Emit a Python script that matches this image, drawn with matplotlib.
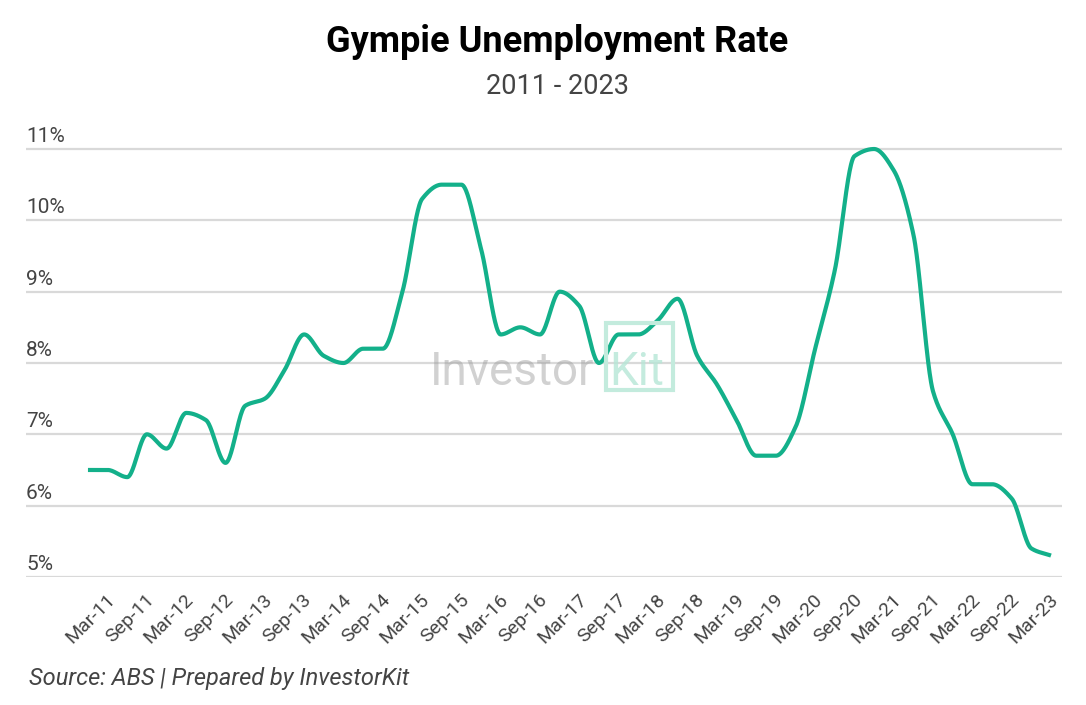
import numpy as np
import matplotlib
matplotlib.use('Agg')
import matplotlib.pyplot as plt
from matplotlib.transforms import ScaledTranslation
from matplotlib.patches import Rectangle

plt.rcParams['font.family'] = ['Roboto', 'DejaVu Sans']

# quarterly unemployment rate (%), Mar-11 onwards
rate = [6.5, 6.5, 6.4, 7.0, 6.8, 7.3, 7.2, 6.6, 7.4, 7.5,
        7.9, 8.4, 8.1, 8.0, 8.2, 8.2, 9.0, 10.3, 10.5, 10.5,
        9.6, 8.4, 8.5, 8.4, 9.0, 8.8, 8.0, 8.4, 8.4, 8.6,
        8.9, 8.1, 7.7, 7.2, 6.7, 6.7, 7.1, 8.2, 9.3, 10.9,
        11.0, 10.7, 9.8, 7.6, 7.0, 6.3, 6.3, 6.1, 5.4, 5.3]
tick_labels = ['Mar-11', 'Sep-11', 'Mar-12', 'Sep-12', 'Mar-13', 'Sep-13',
               'Mar-14', 'Sep-14', 'Mar-15', 'Sep-15', 'Mar-16', 'Sep-16',
               'Mar-17', 'Sep-17', 'Mar-18', 'Sep-18', 'Mar-19', 'Sep-19',
               'Mar-20', 'Sep-20', 'Mar-21', 'Sep-21', 'Mar-22', 'Sep-22',
               'Mar-23']
y_ticks = [5, 6, 7, 8, 9, 10, 11]


def pchip(x, y, xs):
    # monotone cubic (Fritsch-Carlson), keeps flat runs flat
    x = np.asarray(x, float)
    y = np.asarray(y, float)
    h = np.diff(x)
    delta = np.diff(y) / h
    n = len(x)
    d = np.zeros(n)
    for k in range(1, n - 1):
        if delta[k - 1] * delta[k] > 0:
            w1 = 2 * h[k] + h[k - 1]
            w2 = h[k] + 2 * h[k - 1]
            d[k] = (w1 + w2) / (w1 / delta[k - 1] + w2 / delta[k])
    d[0] = delta[0]
    d[-1] = delta[-1]
    idx = np.clip(np.searchsorted(x, xs) - 1, 0, n - 2)
    t = (xs - x[idx]) / h[idx]
    h00 = 2 * t**3 - 3 * t**2 + 1
    h10 = t**3 - 2 * t**2 + t
    h01 = -2 * t**3 + 3 * t**2
    h11 = t**3 - t**2
    return (h00 * y[idx] + h10 * h[idx] * d[idx]
            + h01 * y[idx + 1] + h11 * h[idx] * d[idx + 1])


x = np.arange(len(rate))
xs = np.linspace(0, len(rate) - 1, 2000)
ys = pchip(x, rate, xs)

fig = plt.figure(figsize=(10.86, 7.05), dpi=100)
ax = fig.add_axes([0.0239, 0.1816, 0.9540, 0.6374])

line_color = '#13b08a'
ax.plot(xs, ys, color=line_color, lw=3.0, solid_capstyle='butt', zorder=3, clip_on=False)

ax.set_xlim(-3.155, 49.56)
ax.set_ylim(5, 11.3)

for v in y_ticks:
    ax.axhline(v, color='#d9d9d9', lw=1.6, zorder=1)
    ax.annotate('{}%'.format(v), xy=(0, v), xycoords=ax.get_yaxis_transform(),
                xytext=(0, 5), textcoords='offset points', ha='left', va='baseline',
                fontsize=15, color='#444444')

ax.set_yticks([])
ticks = np.arange(0, len(rate), 2)[:len(tick_labels)]
ax.set_xticks(ticks)
ax.set_xticklabels(tick_labels, rotation=45, ha='right', rotation_mode='anchor',
                   fontsize=14, color='#444444')
ax.tick_params(axis='x', length=0, pad=10)
offset = ScaledTranslation(13 / 72, 0, fig.dpi_scale_trans)
for lab in ax.get_xticklabels():
    lab.set_transform(lab.get_transform() + offset)
for s in ax.spines.values():
    s.set_visible(False)

# watermark
fig.text(0.396, 0.472, 'Investor', fontsize=33, color='#9a9a9a', alpha=0.45,
         ha='left', va='center', zorder=0)
fig.text(0.561, 0.472, 'Kit', fontsize=33, color='#b6e6d6', alpha=0.8,
         ha='left', va='center', zorder=0)
fig.patches.append(Rectangle((606 / 1086, 1 - 390 / 705), 67 / 1086, 67 / 705,
                             transform=fig.transFigure, fill=False,
                             edgecolor='#c3ebdd', lw=3, zorder=0))

fig.text(0.513, 0.940, 'Gympie Unemployment Rate', fontsize=26, fontweight='bold',
         ha='center', va='center', color='black')
fig.text(0.513, 0.877, '2011 - 2023', fontsize=19.5, ha='center', va='center',
         color='#444444')
fig.text(0.027, 0.038, 'Source: ABS | Prepared by InvestorKit', fontsize=17,
         style='italic', ha='left', va='center', color='#444444')

fig.savefig('out.png', dpi=100)
